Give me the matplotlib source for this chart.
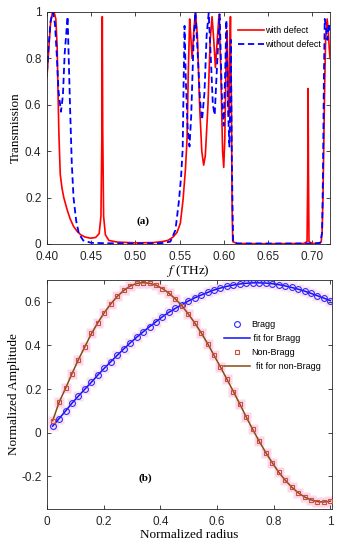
import numpy as np
import matplotlib
matplotlib.use("Agg")
import matplotlib.pyplot as plt

plt.rcParams['font.family'] = ['Liberation Sans', 'DejaVu Sans']
plt.rcParams['mathtext.fontset'] = 'stix'

# (a) transmission spectra
f_defect = [0.400, 0.402, 0.404, 0.406, 0.408, 0.410, 0.4115, 0.4125, 0.4135, 0.415,
            0.417, 0.419, 0.4226, 0.426, 0.430, 0.434, 0.438, 0.443, 0.449, 0.455,
            0.459, 0.461, 0.462, 0.4625, 0.463, 0.464, 0.466, 0.470, 0.480, 0.500,
            0.520, 0.530, 0.537, 0.5425, 0.547, 0.5508, 0.5538, 0.5565, 0.5583, 0.5598,
            0.5613, 0.5625, 0.564, 0.566, 0.5678, 0.570, 0.5725, 0.575, 0.5771, 0.579,
            0.582, 0.5845, 0.5866, 0.5885, 0.5904, 0.5925, 0.5945, 0.5965, 0.5985, 0.5998,
            0.601, 0.6025, 0.6036, 0.6045, 0.6055, 0.6065, 0.6074, 0.6085, 0.6093, 0.610,
            0.615, 0.650, 0.690, 0.694, 0.6948, 0.6952, 0.6956, 0.6962, 0.700, 0.708,
            0.710, 0.711, 0.712, 0.713, 0.714, 0.715, 0.7167, 0.718, 0.719, 0.720]
T_defect = [0.72, 0.84, 0.95, 0.995, 1.0, 0.97, 0.85, 0.65, 0.47, 0.30,
            0.24, 0.20, 0.15, 0.11, 0.076, 0.055, 0.04, 0.03, 0.025, 0.028,
            0.045, 0.12, 0.45, 0.98, 0.5, 0.12, 0.04, 0.015, 0.008, 0.005,
            0.006, 0.01, 0.016, 0.03, 0.05, 0.09, 0.19, 0.32, 0.45, 0.75,
            0.97, 0.9, 0.8, 0.92, 1.0, 0.9, 0.6, 0.4, 0.34, 0.38,
            0.6, 0.88, 0.98, 0.88, 0.76, 0.88, 0.99, 0.75, 0.4, 0.33,
            0.45, 0.8, 0.92, 0.7, 0.55, 0.8, 0.98, 0.6, 0.15, 0.01,
            0.002, 0.001, 0.002, 0.01, 0.3, 0.67, 0.3, 0.01, 0.002, 0.003,
            0.01, 0.05, 0.2, 0.45, 0.7, 0.88, 0.97, 0.92, 0.85, 0.80]

f_nodefect = [0.400, 0.402, 0.404, 0.4065, 0.409, 0.411, 0.413, 0.4158, 0.418, 0.420,
              0.4233, 0.426, 0.428, 0.430, 0.433, 0.436, 0.441, 0.450, 0.470, 0.500,
              0.530, 0.5395, 0.5452, 0.549, 0.5516, 0.5534, 0.5545, 0.5555, 0.557, 0.559,
              0.5611, 0.563, 0.5655, 0.5678, 0.570, 0.573, 0.5753, 0.578, 0.5805, 0.5828,
              0.585, 0.5875, 0.5896, 0.592, 0.5952, 0.598, 0.5998, 0.6015, 0.6028, 0.6045,
              0.6062, 0.607, 0.6078, 0.609, 0.6104, 0.615, 0.700, 0.709, 0.711, 0.712,
              0.713, 0.714, 0.7155, 0.717, 0.7185, 0.720]
T_nodefect = [0.74, 0.86, 0.96, 1.0, 0.95, 0.82, 0.66, 0.57, 0.64, 0.82,
              0.98, 0.60, 0.35, 0.20, 0.10, 0.045, 0.015, 0.005, 0.003, 0.002,
              0.004, 0.01, 0.06, 0.18, 0.29, 0.41, 0.7, 0.94, 0.7, 0.5,
              0.42, 0.55, 0.85, 1.0, 0.85, 0.62, 0.535, 0.65, 0.9, 0.995,
              0.82, 0.6, 0.556, 0.75, 0.99, 0.6, 0.51, 0.75, 0.965, 0.6,
              0.42, 0.6, 0.88, 0.35, 0.01, 0.002, 0.002, 0.005, 0.05, 0.3,
              0.7, 0.97, 0.93, 0.88, 0.95, 0.92]

# (b) mode profiles
radius = [0.02, 0.043, 0.066, 0.088, 0.111, 0.134, 0.157, 0.18, 0.202, 0.225,
          0.248, 0.271, 0.293, 0.316, 0.339, 0.362, 0.385, 0.407, 0.43, 0.453,
          0.476, 0.498, 0.521, 0.544, 0.567, 0.589, 0.612, 0.635, 0.658, 0.681,
          0.703, 0.726, 0.749, 0.772, 0.795, 0.817, 0.84, 0.863, 0.886, 0.909,
          0.931, 0.954, 0.977, 1.0]
bragg = [0.03, 0.065, 0.10, 0.135, 0.168, 0.200, 0.232, 0.265, 0.295, 0.325,
         0.355, 0.384, 0.411, 0.437, 0.462, 0.486, 0.509, 0.531, 0.552, 0.570,
         0.587, 0.603, 0.618, 0.631, 0.643, 0.654, 0.663, 0.671, 0.677, 0.682,
         0.685, 0.687, 0.687, 0.686, 0.683, 0.679, 0.673, 0.666, 0.658, 0.649,
         0.639, 0.628, 0.617, 0.605]
nonbragg = [0.055, 0.14, 0.205, 0.27, 0.335, 0.395, 0.455, 0.505, 0.55, 0.59,
            0.625, 0.652, 0.672, 0.684, 0.688, 0.685, 0.676, 0.661, 0.64, 0.613,
            0.582, 0.545, 0.504, 0.458, 0.408, 0.356, 0.301, 0.245, 0.188, 0.13,
            0.072, 0.015, -0.04, -0.091, -0.138, -0.18, -0.217, -0.249, -0.275, -0.295,
            -0.308, -0.316, -0.318, -0.314]

serif = ['Liberation Serif', 'DejaVu Serif']

fig = plt.figure(figsize=(3.39, 5.5), dpi=100)
ax1 = fig.add_axes([0.1386, 0.5564, 0.835, 0.4218])
ax2 = fig.add_axes([0.1386, 0.0745, 0.841, 0.4164])

for ax in (ax1, ax2):
    ax.tick_params(direction='in', length=3, width=0.6, labelsize=8.5, colors='#262626',
                   top=True, right=True)
    ax.tick_params(axis='x', pad=5)
    ax.tick_params(axis='y', pad=4)
    for s in ax.spines.values():
        s.set_linewidth(0.6)
        s.set_color('#262626')

ax1.plot(f_defect, T_defect, color='#ff0000', lw=1.2, label='with defect')
ax1.plot(f_nodefect, T_nodefect, color='#0000ff', lw=1.3, ls=(0, (3.5, 2)), label='without defect')
ax1.set_xlim(0.40, 0.72)
ax1.set_ylim(0, 1)
ax1.set_xticks([0.40, 0.45, 0.50, 0.55, 0.60, 0.65, 0.70])
ax1.set_xticklabels(['0.40', '0.45', '0.50', '0.55', '0.60', '0.65', '0.70'])
ax1.set_yticks([0, 0.2, 0.4, 0.6, 0.8, 1])
ax1.set_yticklabels(['0', '0.2', '0.4', '0.6', '0.8', '1'])
ax1.set_xlabel('$f$ (THz)', family=serif, fontsize=9.5, labelpad=0)
ax1.set_ylabel('Transmission', family=serif, fontsize=9.5, labelpad=2)
ax1.text(0.509, 0.10, '(a)', family=serif, fontsize=8, fontweight='bold', ha='center', va='center')
ax1.legend(loc='upper right', frameon=False, fontsize=6.5, handlelength=2.9,
           handletextpad=0.1, borderaxespad=0.3, labelspacing=0.5, bbox_to_anchor=(0.99, 0.965))

ax2.plot(radius, bragg, ls='none', marker='s', ms=6.5, color='#fde0ee', mec='none', zorder=1)
ax2.plot(radius, nonbragg, ls='none', marker='s', ms=6.5, color='#fcd6ea', mec='none', zorder=1)
ax2.plot(radius, bragg, ls='none', marker='o', ms=4.2, mfc='none', mec='#2a2aff', mew=0.8,
         label='Bragg', zorder=3)
ax2.plot(radius, bragg, color='#1010ff', lw=1.1, label=' fit for Bragg', zorder=2)
ax2.plot(radius, nonbragg, ls='none', marker='s', ms=3.2, mfc='none', mec='#c8503c', mew=0.8,
         label='Non-Bragg', zorder=3)
ax2.plot(radius, nonbragg, color='#8a4a14', lw=1.1, label='  fit for non-Bragg', zorder=2)
ax2.set_xlim(0, 1.006)
ax2.set_ylim(-0.35, 0.7)
ax2.set_xticks([0, 0.2, 0.4, 0.6, 0.8, 1])
ax2.set_xticklabels(['0', '0.2', '0.4', '0.6', '0.8', '1'])
ax2.set_yticks([-0.2, 0, 0.2, 0.4, 0.6])
ax2.set_yticklabels(['-0.2', '0', '0.2', '0.4', '0.6'])
ax2.set_xlabel('Normalized radius', family=serif, fontsize=9.5, labelpad=1)
ax2.set_ylabel('Normalized Amplitude', family=serif, fontsize=9.5, labelpad=1)
ax2.text(0.347, -0.207, '(b)', family=serif, fontsize=8, fontweight='bold', ha='center', va='center')
ax2.legend(loc='upper right', frameon=False, fontsize=6.5, handlelength=2.9,
           handletextpad=0.1, labelspacing=0.55, bbox_to_anchor=(0.99, 0.86))

fig.savefig('out.png', dpi=100)
